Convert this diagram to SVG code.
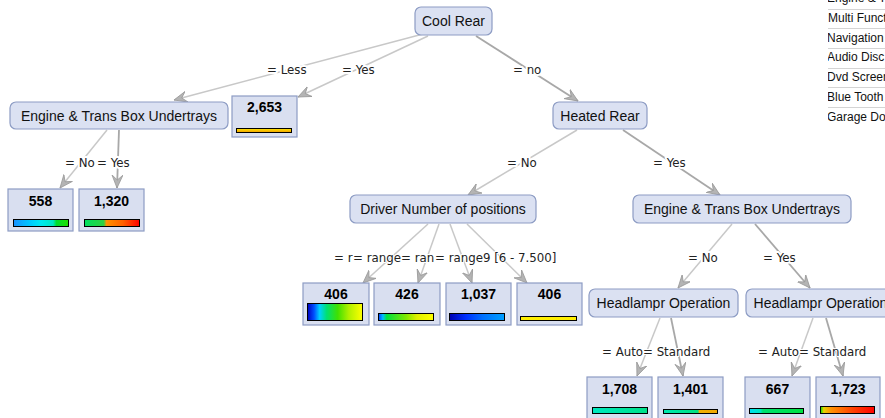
<svg xmlns="http://www.w3.org/2000/svg" width="885" height="418" viewBox="0 0 885 418">
<style>
.dn{fill:#dbe1f2;stroke:#8d9cc4;stroke-width:1.2}
.lf{fill:#d9dff0;stroke:#8d9cc4;stroke-width:1.2}
.nt{font-family:"Liberation Sans",Arial,sans-serif;font-size:14px;fill:#111;text-anchor:middle}
.num{font-family:"Liberation Sans",Arial,sans-serif;font-size:14px;font-weight:bold;fill:#000;text-anchor:middle}
.bar{stroke:#000;stroke-width:1}
.e{fill:none;stroke:#c8c8c8;stroke-width:1.5;marker-end:url(#ah)}
.ed{stroke:#a8a8a8;stroke-width:1.8}
.lb{font-family:"DejaVu Sans",Verdana,sans-serif;font-size:11.8px;fill:#222;stroke:#fff;stroke-width:4;paint-order:stroke;stroke-linejoin:round}
.thin{stroke-width:2}
.lg{font-family:"Liberation Sans",Arial,sans-serif;font-size:12px;fill:#111}
.sep{stroke:#d4d4d4;stroke-width:1}
</style>
<defs>
<marker id="ah" markerUnits="userSpaceOnUse" markerWidth="14" markerHeight="12" refX="13" refY="6" orient="auto">
<path d="M0,0.5 L13,6 L0,11.5 L5,6 z" fill="#b4b4b4" stroke="#9a9a9a" stroke-width="0.8"/>
</marker>
<linearGradient id="g2653" x1="0" y1="0" x2="0" y2="1"><stop offset="0" stop-color="#ffe600"/><stop offset="1" stop-color="#f0a000"/></linearGradient>
<linearGradient id="g558"><stop offset="0" stop-color="#1890ff"/><stop offset="0.3" stop-color="#00c8ff"/><stop offset="0.5" stop-color="#00e8f0"/><stop offset="0.72" stop-color="#00e8c0"/><stop offset="0.78" stop-color="#00dd30"/><stop offset="1" stop-color="#20e000"/></linearGradient>
<linearGradient id="g1320"><stop offset="0" stop-color="#00e060"/><stop offset="0.35" stop-color="#30d040"/><stop offset="0.4" stop-color="#ff9000"/><stop offset="0.7" stop-color="#ff6000"/><stop offset="1" stop-color="#ff0000"/></linearGradient>
<linearGradient id="g406a"><stop offset="0" stop-color="#0000c0"/><stop offset="0.12" stop-color="#0050ff"/><stop offset="0.22" stop-color="#00d0ff"/><stop offset="0.35" stop-color="#00e070"/><stop offset="0.55" stop-color="#40e000"/><stop offset="0.75" stop-color="#b0f000"/><stop offset="1" stop-color="#ffff00"/></linearGradient>
<linearGradient id="g426"><stop offset="0" stop-color="#0040ff"/><stop offset="0.08" stop-color="#00c0ff"/><stop offset="0.15" stop-color="#00e040"/><stop offset="0.5" stop-color="#80e800"/><stop offset="0.7" stop-color="#e0f000"/><stop offset="1" stop-color="#ffff00"/></linearGradient>
<linearGradient id="g1037"><stop offset="0" stop-color="#0000b0"/><stop offset="0.3" stop-color="#0030ff"/><stop offset="0.6" stop-color="#0070ff"/><stop offset="1" stop-color="#00a0ff"/></linearGradient>
<linearGradient id="g1708"><stop offset="0" stop-color="#00e8c0"/><stop offset="1" stop-color="#00e088"/></linearGradient>
<linearGradient id="g1401"><stop offset="0" stop-color="#00e8b0"/><stop offset="0.64" stop-color="#00e080"/><stop offset="0.66" stop-color="#f0b000"/><stop offset="1" stop-color="#f0a800"/></linearGradient>
<linearGradient id="g667"><stop offset="0" stop-color="#00e0f0"/><stop offset="0.2" stop-color="#00e8c0"/><stop offset="0.25" stop-color="#00e070"/><stop offset="1" stop-color="#00e040"/></linearGradient>
<linearGradient id="g1723"><stop offset="0" stop-color="#00e000"/><stop offset="0.06" stop-color="#e8d000"/><stop offset="0.2" stop-color="#ff9000"/><stop offset="0.6" stop-color="#ff4000"/><stop offset="1" stop-color="#ff0000"/></linearGradient>
<clipPath id="lgc"><rect x="828" y="0" width="57" height="130"/></clipPath>
</defs>
<rect width="885" height="418" fill="#fff"/>

<g id="legend" clip-path="url(#lgc)">
<line class="sep" x1="827" y1="9.5" x2="885" y2="9.5"/>
<line class="sep" x1="827" y1="28.5" x2="885" y2="28.5"/>
<line class="sep" x1="827" y1="48.5" x2="885" y2="48.5"/>
<line class="sep" x1="827" y1="68.5" x2="885" y2="68.5"/>
<line class="sep" x1="827" y1="87.5" x2="885" y2="87.5"/>
<line class="sep" x1="827" y1="107.5" x2="885" y2="107.5"/>
<text class="lg" x="827" y="2">Engine &amp; Trans Box Undertrays</text>
<text class="lg" x="828" y="22">Multi Function</text>
<text class="lg" x="827" y="42">Navigation</text>
<text class="lg" x="827" y="61">Audio Disc</text>
<text class="lg" x="827" y="81">Dvd Screen</text>
<text class="lg" x="827" y="101">Blue Tooth</text>
<text class="lg" x="827" y="121">Garage Door</text>
</g>

<g id="connectors">
<path class="e" d="M423,34 L174,100"/>
<path class="e" d="M428,36 L298,97"/>
<path class="e ed" d="M476,36 L578,101"/>
<path class="e" d="M107,130 L60,188"/>
<path class="e ed" d="M119,130 L117,188"/>
<path class="e" d="M577,130 L468,195"/>
<path class="e ed" d="M623,130 L720,195"/>
<path class="e" d="M428,224 L363,283"/>
<path class="e" d="M439,224 L418,283"/>
<path class="e" d="M450,224 L472,283"/>
<path class="e" d="M467,224 L527,283"/>
<path class="e" d="M732,224 L678,288"/>
<path class="e ed" d="M755,224 L810,288"/>
<path class="e" d="M660,318 L637,376"/>
<path class="e ed" d="M671,318 L683,376"/>
<path class="e" d="M813,318 L792,376"/>
<path class="e ed" d="M826,318 L843,376"/>
<text class="lb" x="267" y="74">= Less</text>
<text class="lb" x="342" y="74">= Yes</text>
<text class="lb" x="513" y="74">= no</text>
<text class="lb" x="65" y="167">= No</text>
<text class="lb" x="97" y="167">= Yes</text>
<text class="lb" x="507" y="167">= No</text>
<text class="lb" x="653" y="167">= Yes</text>
<text class="lb thin" x="334" y="262">= r</text>
<text class="lb thin" x="353" y="262">= range</text>
<text class="lb thin" x="401" y="262">= ran</text>
<text class="lb thin" x="435" y="262">= range9 [6 - 7.500]</text>
<text class="lb" x="688" y="262">= No</text>
<text class="lb" x="763" y="262">= Yes</text>
<text class="lb thin" x="602" y="356">= Auto</text>
<text class="lb thin" x="643" y="356">= Standard</text>
<text class="lb thin" x="758" y="356">= Auto</text>
<text class="lb thin" x="799" y="356">= Standard</text>
</g>

<g id="n-coolrear"><rect class="dn" x="415" y="7" width="77" height="28" rx="6"/><text class="nt" x="453.5" y="26">Cool Rear</text></g>
<g id="n-engine1"><rect class="dn" x="10" y="102" width="218" height="27" rx="6"/><text class="nt" x="119" y="121">Engine &amp; Trans Box Undertrays</text></g>
<g id="n-2653"><rect class="lf" x="232" y="96" width="65" height="41"/><text class="num" x="264.5" y="112">2,653</text><rect class="bar" x="236.5" y="128.5" width="55" height="4" fill="url(#g2653)"/></g>
<g id="n-heated"><rect class="dn" x="553" y="102" width="94" height="27" rx="6"/><text class="nt" x="600" y="121">Heated Rear</text></g>
<g id="n-558"><rect class="lf" x="8" y="189" width="65" height="42"/><text class="num" x="40.5" y="206">558</text><rect class="bar" x="13.5" y="219.5" width="55" height="7" fill="url(#g558)"/></g>
<g id="n-1320"><rect class="lf" x="79" y="189" width="65" height="42"/><text class="num" x="111.5" y="206">1,320</text><rect class="bar" x="84.5" y="219.5" width="55" height="7" fill="url(#g1320)"/></g>
<g id="n-driver"><rect class="dn" x="350" y="195" width="186" height="28" rx="6"/><text class="nt" x="443" y="214">Driver Number of positions</text></g>
<g id="n-engine2"><rect class="dn" x="633" y="195" width="218" height="28" rx="6"/><text class="nt" x="742" y="214">Engine &amp; Trans Box Undertrays</text></g>
<g id="n-406a"><rect class="lf" x="303" y="283" width="66" height="42"/><text class="num" x="336" y="299">406</text><rect class="bar" x="307.5" y="303.5" width="55" height="17" fill="url(#g406a)"/></g>
<g id="n-426"><rect class="lf" x="374" y="283" width="66" height="42"/><text class="num" x="407" y="299">426</text><rect class="bar" x="378.5" y="313.5" width="55" height="7" fill="url(#g426)"/></g>
<g id="n-1037"><rect class="lf" x="446" y="283" width="65" height="42"/><text class="num" x="478.5" y="299">1,037</text><rect class="bar" x="449.5" y="313.5" width="55" height="7" fill="url(#g1037)"/></g>
<g id="n-406b"><rect class="lf" x="517" y="283" width="65" height="42"/><text class="num" x="549.5" y="299">406</text><rect class="bar" x="520.5" y="316.5" width="56" height="4" fill="#ffee00"/></g>
<g id="n-head1"><rect class="dn" x="589" y="289" width="149" height="28" rx="6"/><text class="nt" x="663.5" y="308">Headlampr Operation</text></g>
<g id="n-head2"><rect class="dn" x="746" y="289" width="149" height="28" rx="6"/><text class="nt" x="820.5" y="308">Headlampr Operation</text></g>
<g id="n-1708"><rect class="lf" x="587" y="377" width="65" height="42"/><text class="num" x="619.5" y="394">1,708</text><rect class="bar" x="592.5" y="407.5" width="55" height="6" fill="url(#g1708)"/></g>
<g id="n-1401"><rect class="lf" x="658" y="377" width="65" height="42"/><text class="num" x="690.5" y="394">1,401</text><rect class="bar" x="663.5" y="409.5" width="54" height="4" fill="url(#g1401)"/></g>
<g id="n-667"><rect class="lf" x="745" y="377" width="65" height="42"/><text class="num" x="777.5" y="394">667</text><rect class="bar" x="749.5" y="408.5" width="54" height="5" fill="url(#g667)"/></g>
<g id="n-1723"><rect class="lf" x="816" y="377" width="64" height="42"/><text class="num" x="848" y="394">1,723</text><rect class="bar" x="820.5" y="406.5" width="54" height="7" fill="url(#g1723)"/></g>
</svg>
